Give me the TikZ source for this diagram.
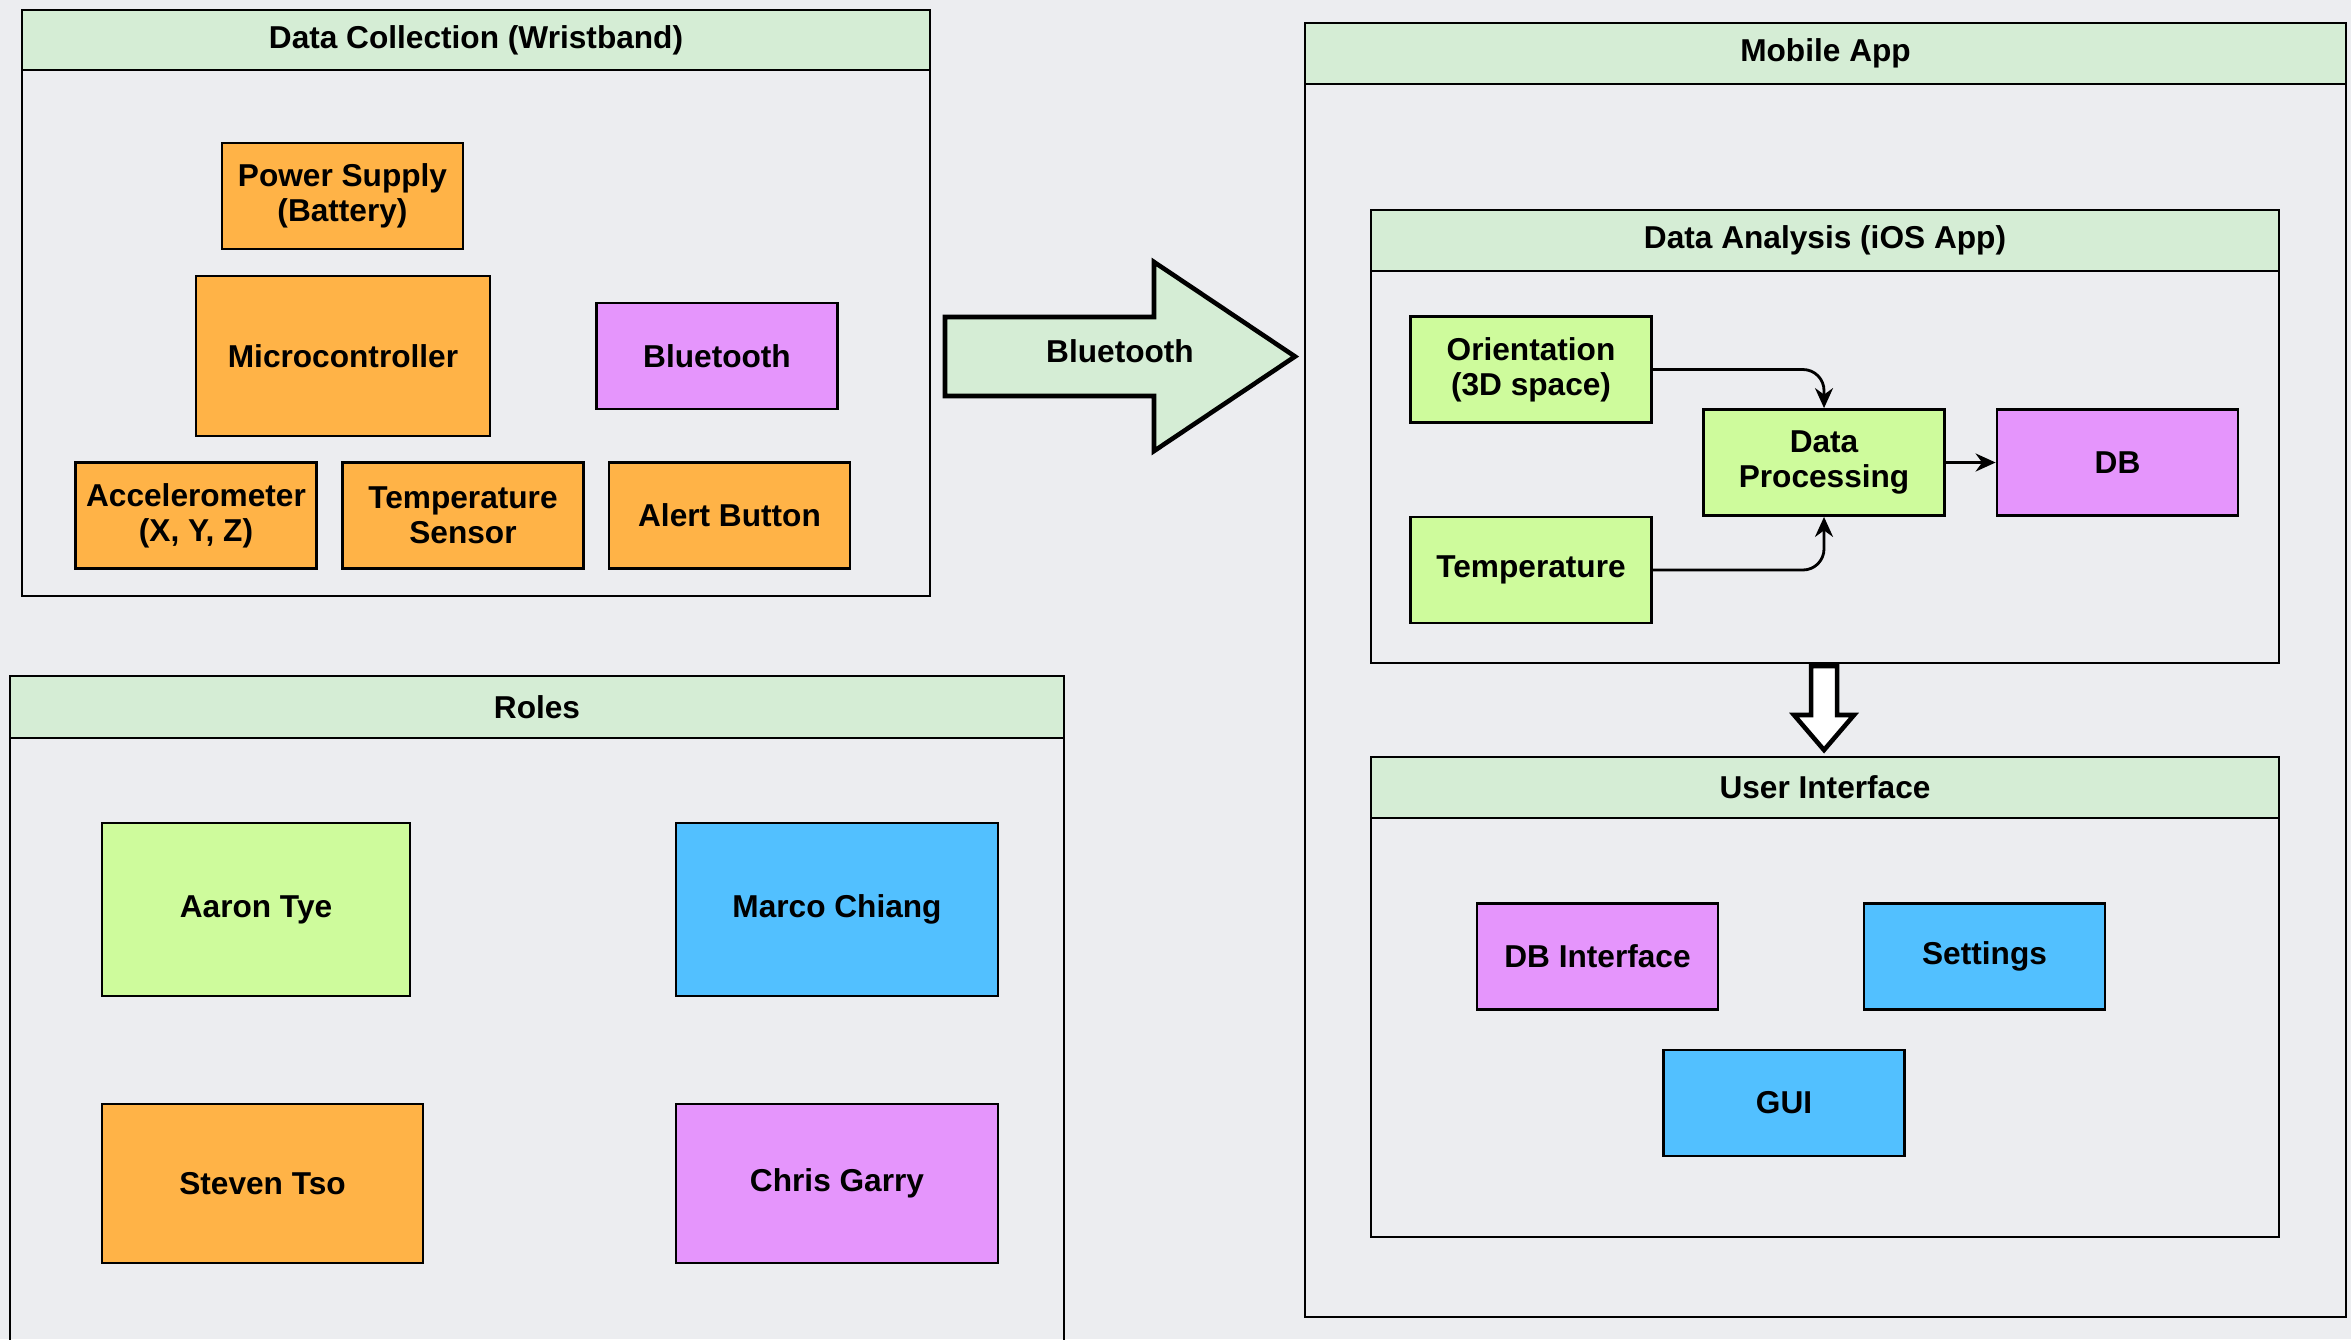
\documentclass[tikz,border=0pt]{standalone}
\usepackage{fontspec}
\setmainfont{Liberation Sans}
\usetikzlibrary{arrows.meta}
\definecolor{bggray}{HTML}{ECEDF0}
\definecolor{headgreen}{HTML}{D5EDD5}
\definecolor{boxorange}{HTML}{FFB347}
\definecolor{boxpurple}{HTML}{E595FC}
\definecolor{boxblue}{HTML}{52C0FF}
\definecolor{boxgreen}{HTML}{CEFB9C}

\begin{document}
\begin{tikzpicture}[>={Stealth[length=2mm,width=1.8mm]},
  frame/.style={draw,line width=0.8pt},
  title/.style={font=\bfseries\fontsize{9}{10}\selectfont},
  part/.style={draw,line width=0.8pt,minimum width=2.41cm,minimum height=1.06cm,inner sep=1pt,align=center,font=\bfseries\fontsize{9}{10}\selectfont},
  bigarrow/.style={draw,line width=1.3pt,line join=miter}]
\useasboundingbox (0,0) rectangle (23.51,-13.39);
\clip (0,0) rectangle (23.51,-13.39);
\fill[bggray] (0,0) rectangle (23.51,-13.39);
% containers with green title bars
\foreach \n/\xa/\ya/\xb/\yb/\yh/\t in {dc/0.22/-0.10/9.30/-5.96/-0.70/Data Collection (Wristband),
    roles/0.10/-6.76/10.64/-13.60/-7.38/Roles,
    mobile/13.05/-0.23/23.46/-13.17/-0.84/Mobile App,
    analysis/13.71/-2.10/22.79/-6.63/-2.71/Data Analysis (iOS App),
    ui/13.71/-7.57/22.79/-12.37/-8.18/User Interface}{
    \draw[frame] (\xa,\ya) rectangle (\xb,\yb);
    \draw[frame,fill=headgreen] (\xa,\ya) rectangle (\xb,\yh);
    \node[title] (\n) at ({(\xa+\xb)/2},{(\ya+\yh)/2}) {\t};
}
% wristband
\node[part,fill=boxorange] (power) at (3.425,-1.96) {Power Supply\\(Battery)};
\node[part,fill=boxorange,minimum width=2.94cm,minimum height=1.60cm] (mcu) at (3.43,-3.56) {Microcontroller};
\node[part,fill=boxpurple] (bt) at (7.17,-3.56) {Bluetooth};
\node[part,fill=boxorange] (accel) at (1.96,-5.155) {Accelerometer\\(X, Y, Z)};
\node[part,fill=boxorange] (tsensor) at (4.63,-5.155) {Temperature\\Sensor};
\node[part,fill=boxorange] (alert) at (7.295,-5.155) {Alert Button};
% roles
\node[part,fill=boxgreen,minimum width=3.08cm,minimum height=1.73cm] (aaron) at (2.56,-9.095) {Aaron Tye};
\node[part,fill=boxblue,minimum width=3.22cm,minimum height=1.73cm] (marco) at (8.37,-9.095) {Marco Chiang};
\node[part,fill=boxorange,minimum width=3.21cm,minimum height=1.59cm] (steven) at (2.625,-11.835) {Steven Tso};
\node[part,fill=boxpurple,minimum width=3.22cm,minimum height=1.59cm] (chris) at (8.37,-11.835) {Chris Garry};
% data analysis
\node[part,fill=boxgreen] (orient) at (15.31,-3.695) {Orientation\\(3D space)};
\node[part,fill=boxgreen] (temp) at (15.31,-5.70) {Temperature};
\node[part,fill=boxgreen] (proc) at (18.24,-4.625) {Data\\Processing};
\node[part,fill=boxpurple] (db) at (21.175,-4.625) {DB};
\draw[->,line width=0.8pt,rounded corners=6pt] (orient.east) -| (proc.north);
\draw[->,line width=0.8pt,rounded corners=6pt] (temp.east) -| (proc.south);
\draw[->,line width=0.8pt] (proc) -- (db);
% user interface
\node[part,fill=boxpurple] (dbif) at (15.975,-9.565) {DB Interface};
\node[part,fill=boxblue] (settings) at (19.845,-9.565) {Settings};
\node[part,fill=boxblue] (gui) at (17.84,-11.03) {GUI};
% block arrows
\draw[bigarrow,fill=headgreen] (9.45,-3.17) -- (11.54,-3.17) -- (11.54,-2.62) -- (12.95,-3.565)
    -- (11.54,-4.51) -- (11.54,-3.96) -- (9.45,-3.96) -- cycle;
\node[title] (btlink) at (11.20,-3.51) {Bluetooth};
\draw[bigarrow,fill=white] (18.11,-6.66) -- (18.11,-7.15) -- (17.94,-7.15) -- (18.24,-7.50)
    -- (18.54,-7.15) -- (18.37,-7.15) -- (18.37,-6.66) -- cycle;
\end{tikzpicture}
\end{document}
